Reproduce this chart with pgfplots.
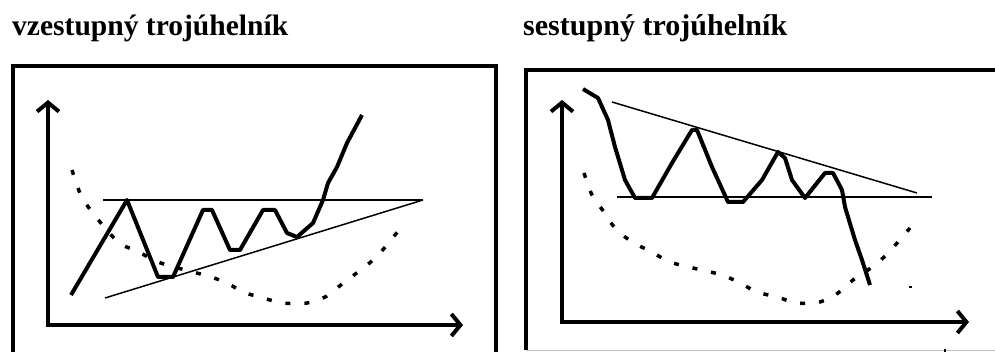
\documentclass[border=0pt]{standalone}
\usepackage{pgfplots}
\pgfplotsset{compat=1.18}
\usetikzlibrary{arrows.meta}
\usepackage{fontspec}
\setmainfont{Liberation Serif}
\begin{document}
\begin{tikzpicture}
\begin{axis}[scale only axis, width=995pt, height=352pt,
  xmin=0, xmax=995, ymin=0, ymax=352, y dir=reverse,
  hide axis, clip=true]
% titles
\node[anchor=base west, inner sep=0pt] at (axis cs:12,36) {\resizebox{276pt}{!}{\bfseries vzestupný trojúhelník}};
\node[anchor=base west, inner sep=0pt] at (axis cs:523,36) {\resizebox{264pt}{!}{\bfseries sestupný trojúhelník}};
% frames
\addplot[line width=4pt, line join=miter] coordinates {(13,370) (13,66) (496,66) (496,370)};
\addplot[line width=4pt, line join=miter] coordinates {(526,350) (526,70) (1010,70)};
\addplot[black!25, line width=1pt] coordinates {(526,350) (1010,350)};
\addplot[black, line width=1.5pt] coordinates {(945,352) (945,349)};
% left panel axes
\addplot[line width=4pt, -{Straight Barb[length=9pt,width=22pt]}] coordinates {(48,327) (48,100)};
\addplot[line width=4pt, -{Straight Barb[length=9pt,width=22pt]}] coordinates {(46,325) (463,325)};
% right panel axes
\addplot[line width=4pt, -{Straight Barb[length=9pt,width=22pt]}] coordinates {(562,324) (562,100)};
\addplot[line width=4pt, -{Straight Barb[length=9pt,width=22pt]}] coordinates {(560,322) (969,322)};
% left panel: resistance and rising support
\addplot[line width=2pt] coordinates {(103,200) (423,200)};
\addplot[line width=1.5pt] coordinates {(105,298) (423,200)};
% left panel price
\addplot[line width=4pt, line join=round] coordinates {
(71,295) (127,200) (158,277) (173,277) (203,210) (212,210) (230,250) (240,250)
(263,210) (275,210) (287,233) (297,237) (313,223) (323,200) (328,183) (337,167)
(347,143) (362,115)};
% left panel dotted trend
\addplot[line width=3.5pt, dash pattern=on 5pt off 14pt, smooth] coordinates {
(72,170) (80,193) (92,212) (118,242) (137,251) (158,262) (185,270) (208,276) (227,283)
(243,292) (263,298) (283,303) (307,303) (327,296) (342,284) (358,272) (373,260)
(387,245) (402,226)};
% right panel: support and falling resistance
\addplot[line width=1.5pt] coordinates {(617,197) (932,197)};
\addplot[line width=1.5pt] coordinates {(612,102) (917,193)};
% right panel price
\addplot[line width=4pt, line join=round] coordinates {
(583,89) (598,98) (608,120) (615,147) (625,180) (635,198) (652,198) (672,163)
(692,130) (697,130) (712,167) (728,202) (743,202) (762,180) (778,152) (785,158)
(792,180) (805,198) (825,173) (833,173) (842,190) (845,207) (855,240) (862,260)
(870,285)};
% right panel dotted trend
\addplot[line width=3.5pt, dash pattern=on 5pt off 14pt, smooth] coordinates {
(584,173) (592,195) (604,212) (615,228) (632,242) (650,251) (670,262) (693,268)
(722,275) (740,283) (757,292) (777,297) (797,303) (820,302) (838,293) (853,280)
(868,270) (883,258) (898,242) (910,228)};
\addplot[line width=3pt] coordinates {(910,286) (910,288)};
\end{axis}
\pgfresetboundingbox
\path (0,0) rectangle (995pt,352pt);
\end{tikzpicture}
\end{document}
